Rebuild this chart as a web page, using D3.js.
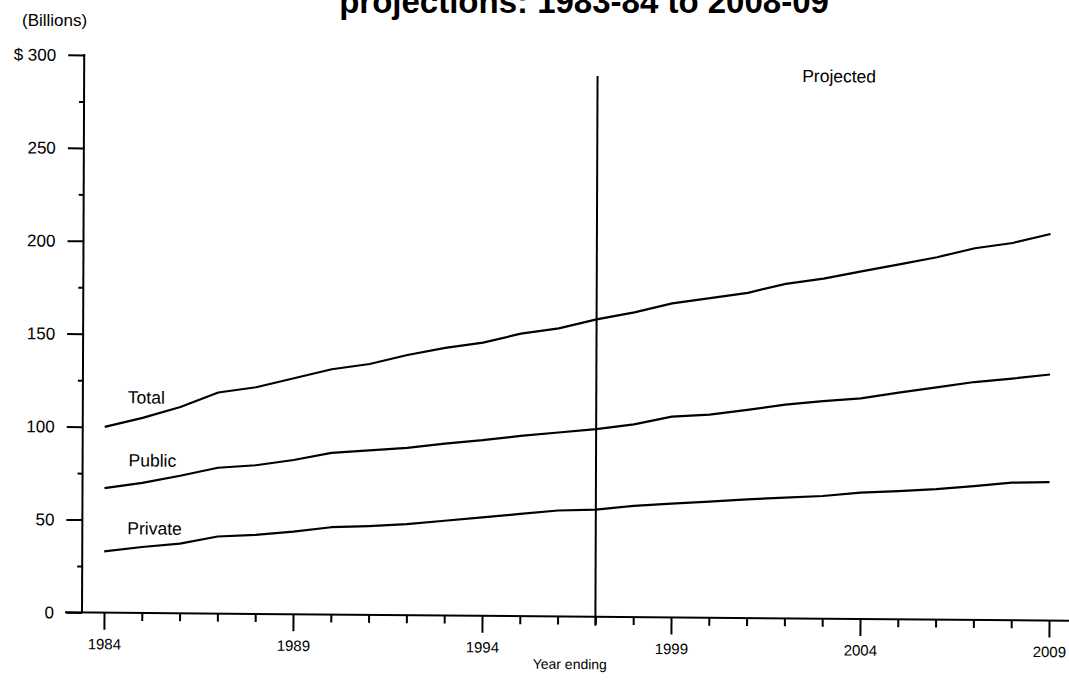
<!DOCTYPE html>
<html><head><meta charset="utf-8">
<script src="https://cdn.jsdelivr.net/npm/d3@7"></script>
<style>
html,body{margin:0;padding:0;background:#fff;}
svg{display:block;font-family:"Liberation Sans",Arial,Helvetica,sans-serif;}
</style></head>
<body><svg id="c" width="1069" height="693"></svg>
<script>
// ---- data (billions of dollars, year ending) ----
const years = [1984,1985,1986,1987,1988,1989,1990,1991,1992,1993,1994,1995,1996,1997,1998,1999,2000,2001,2002,2003,2004,2005,2006,2007,2008,2009];
const total   = [100,105,111,119,122,127,132,135,140,144,147,152,155,160,164,169,172,175,180,183,187,191,195,200,203,208];
const publicV = [67,70,74,78.5,80,83,87,88.5,90,92.5,94.5,97,99,101,103.7,108,109.3,112,115,117,118.7,122,125,128,130,132.4];
const privateV= [33,35.5,37.5,41.5,42.5,44.5,47,47.8,49,51,53,55,57,57.7,59.8,61.2,62.5,63.8,65,66,68,69,70.2,72,74,74.5];
const seriesNames = ["Total","Public","Private"];
const yMajorTicks = [0,50,100,150,200,250,300];
const yMinorTicks = [25,75,125,175,225,275];
const xMajorTicks = [1984,1989,1994,1999,2004,2009];
const projectedFrom = 1997;
const titleText = "projections: 1983-84 to 2008-09";

const svg = d3.select("#c");
const x = d3.scaleLinear().domain([1984,2009]).range([104,1049]);
const y = d3.scaleLinear().domain([0,300]).range([612.5,55]);
const px = 82, py = y(0);

// title (cut off at top, as in the source)
svg.append("text").attr("x",584).attr("y",13).attr("text-anchor","middle")
  .attr("font-size",33).attr("font-weight","bold").text(titleText);
svg.append("text").attr("x",22).attr("y",26)
  .attr("font-size",17).text("(Billions)");

// slight scan skew
const g = svg.append("g")
  .attr("transform",`translate(${px},${py}) matrix(1,0.0083,-0.004,1,0,0) translate(${-px},${-py})`);

// y axis
const yMaj = g.append("g").attr("transform",`translate(${px},0)`)
  .call(d3.axisLeft(y).tickValues(yMajorTicks).tickSize(16).tickPadding(12)
    .tickFormat(d => d===300 ? "$ 300" : d));
const yMin = g.append("g").attr("transform",`translate(${px},0)`)
  .call(d3.axisLeft(y).tickValues(yMinorTicks).tickSize(5).tickFormat(""));
[yMaj,yMin].forEach(a=>{a.select(".domain").remove();
  a.selectAll("line").attr("stroke","#000").attr("stroke-width",2);
  a.selectAll("text").attr("font-size",17).attr("fill","#000");});
g.append("line").attr("x1",px).attr("x2",px).attr("y1",y(300)-1).attr("y2",y(0))
  .attr("stroke","#000").attr("stroke-width",2);

// x axis
const xMaj = g.append("g").attr("transform",`translate(0,${py})`)
  .call(d3.axisBottom(x).tickValues(xMajorTicks).tickSize(17).tickPadding(9).tickFormat(d3.format("d")));
const xMin = g.append("g").attr("transform",`translate(0,${py})`)
  .call(d3.axisBottom(x).tickValues(years.filter(v=>!xMajorTicks.includes(v))).tickSize(8).tickFormat(""));
[xMaj,xMin].forEach(a=>{a.select(".domain").remove();
  a.selectAll("line").attr("stroke","#000").attr("stroke-width",2);
  a.selectAll("text").attr("font-size",15).attr("fill","#000");});
g.append("line").attr("x1",65).attr("x2",1075).attr("y1",py).attr("y2",py)
  .attr("stroke","#000").attr("stroke-width",2);
g.append("text").attr("x",570).attr("y",665).attr("text-anchor","middle")
  .attr("font-size",14).text("Year ending");

// projected divider
g.append("line").attr("x1",x(projectedFrom)).attr("x2",x(projectedFrom))
  .attr("y1",y(291)).attr("y2",py+9).attr("stroke","#000").attr("stroke-width",2);
g.append("text").attr("x",800).attr("y",76).attr("font-size",17.5).text("Projected");

// lines
const line = d3.line().x((d,i)=>x(years[i])).y(d=>y(d));
[total,publicV,privateV].forEach(s=>{
  g.append("path").datum(s).attr("d",line).attr("fill","none")
   .attr("stroke","#000").attr("stroke-width",2.2).attr("stroke-linejoin","round");
});
// series labels
const labelPos = [[127,403],[128,466],[127,534]];
seriesNames.forEach((n,i)=>{
  g.append("text").attr("x",labelPos[i][0]).attr("y",labelPos[i][1])
   .attr("font-size",17.5).text(n);
});
</script></body></html>
